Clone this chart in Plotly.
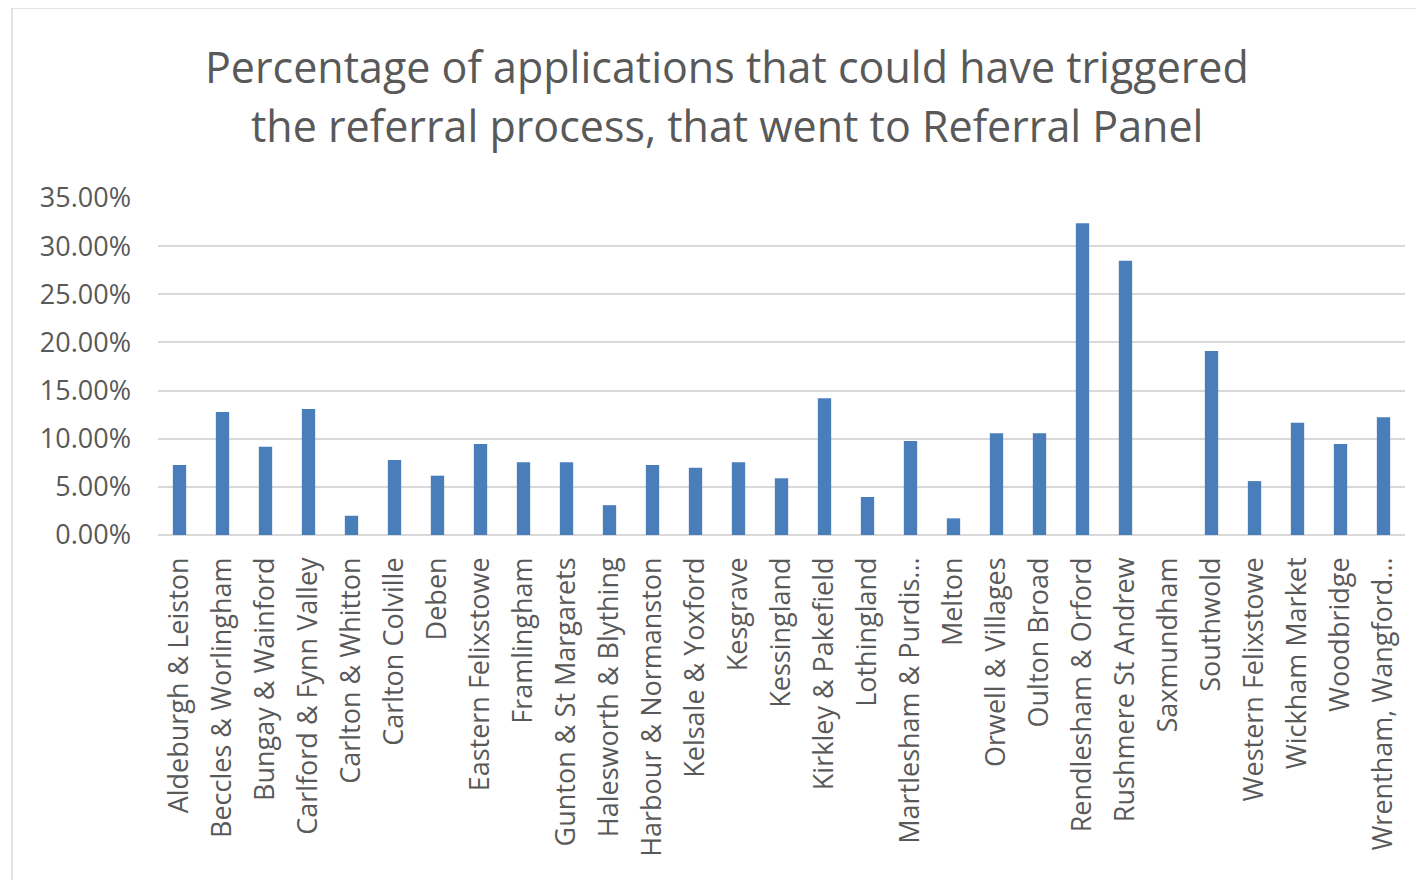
import plotly.graph_objects as go

categories = [
    "Aldeburgh & Leiston", "Beccles & Worlingham", "Bungay & Wainford",
    "Carlford & Fynn Valley", "Carlton & Whitton", "Carlton Colville", "Deben",
    "Eastern Felixstowe", "Framlingham", "Gunton & St Margarets",
    "Halesworth & Blything", "Harbour & Normanston", "Kelsale & Yoxford",
    "Kesgrave", "Kessingland", "Kirkley & Pakefield", "Lothingland",
    "Martlesham & Purdis...", "Melton", "Orwell & Villages", "Oulton Broad",
    "Rendlesham & Orford", "Rushmere St Andrew", "Saxmundham", "Southwold",
    "Western Felixstowe", "Wickham Market", "Woodbridge", "Wrentham, Wangford...",
]
values = [
    0.0727, 0.1277, 0.0917, 0.1308, 0.0200, 0.0779, 0.0616, 0.0945, 0.0755,
    0.0755, 0.0310, 0.0727, 0.0699, 0.0755, 0.0589, 0.1420, 0.0395, 0.0976,
    0.0173, 0.1056, 0.1056, 0.3237, 0.2848, 0.0, 0.1910, 0.0560, 0.1166,
    0.0945, 0.1222,
]
y_ticks = [0, 0.05, 0.10, 0.15, 0.20, 0.25, 0.30, 0.35]
title_lines = ["Percentage of applications that could have triggered",
               "the referral process, that went to Referral Panel"]

W, H = 1424, 880
OFF = 8  # page body margin offset
# target page pixel positions of plot area
PX0, PX1, PY0, PY1 = 158, 1405, 198, 535
L, T = PX0 - OFF, PY0 - OFF
R, B = W - (PX1 - OFF), H - (PY1 - OFF)
pw, ph = W - L - R, H - T - B

fig = go.Figure(go.Bar(x=categories, y=values, marker_color="#4a7ebb",
                       marker_line_width=0))

def px2paper_x(px):
    return (px - PX0) / pw

def px2paper_y(py):
    return (PY1 - py) / ph

fig.update_layout(
    width=W, height=H,
    margin=dict(l=L, r=R, t=T, b=B),
    paper_bgcolor="white", plot_bgcolor="white",
    bargap=0.69,
    showlegend=False,
    font=dict(family="Open Sans", color="#595959"),
    annotations=[
        dict(text=title_lines[0], xref="paper", yref="paper",
             x=px2paper_x(727), y=px2paper_y(66), xanchor="center", yanchor="middle",
             showarrow=False, font=dict(size=43, color="#595959", family="Open Sans")),
        dict(text=title_lines[1], xref="paper", yref="paper",
             x=px2paper_x(727), y=px2paper_y(126), xanchor="center", yanchor="middle",
             showarrow=False, font=dict(size=43, color="#595959", family="Open Sans")),
    ],
    shapes=[dict(type="rect", xref="paper", yref="paper",
                 x0=px2paper_x(12), x1=px2paper_x(1440),
                 y0=px2paper_y(900), y1=px2paper_y(8),
                 line=dict(color="#d9d9d9", width=1.5), fillcolor="rgba(0,0,0,0)")],
)
fig.update_xaxes(tickangle=-90, tickfont=dict(size=27, color="#595959"),
                 showgrid=False, showline=False, ticks="", ticklabelstandoff=16)
fig.update_yaxes(range=[0, 0.35], tickvals=y_ticks, tickformat=".2%",
                 tickfont=dict(size=27, color="#595959"),
                 gridcolor="#d9d9d9", gridwidth=1.5, zeroline=True,
                 zerolinecolor="#d9d9d9", zerolinewidth=1.5, showline=False,
                 ticks="", ticklabelstandoff=26)
fig.write_html("out.html")
